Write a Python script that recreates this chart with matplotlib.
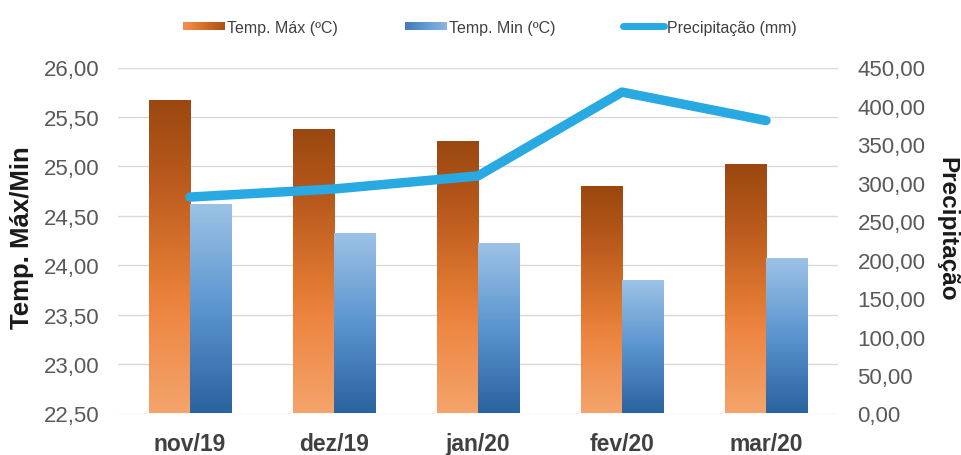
import numpy as np
import matplotlib
matplotlib.use("Agg")
import matplotlib.pyplot as plt
from matplotlib.colors import LinearSegmentedColormap
from matplotlib.legend_handler import HandlerBase
from matplotlib.patches import Rectangle
from matplotlib.lines import Line2D

plt.rcParams['font.family'] = ['Liberation Sans', 'DejaVu Sans']

# dados mensais
meses = ["nov/19", "dez/19", "jan/20", "fev/20", "mar/20"]
temp_max = [25.66, 25.37, 25.25, 24.79, 25.01]
temp_min = [24.61, 24.32, 24.21, 23.84, 24.06]
precip = [281.5, 292.0, 309.0, 418.0, 381.0]

ymin, ymax = 22.5, 26.0
pmin, pmax = 0.0, 450.0

# degradês das barras (de baixo para cima)
cmap_max = LinearSegmentedColormap.from_list(
    "tmax", [(0.0, "#F4A46C"), (0.3, "#EE8845"), (0.45, "#E07A32"),
             (0.75, "#B9591D"), (1.0, "#9A4810")])
cmap_min = LinearSegmentedColormap.from_list(
    "tmin", [(0.0, "#2B62A0"), (0.5, "#5A95CF"), (1.0, "#9DC2E6")])
cor_precip = "#29A9E1"


class GradHandler(HandlerBase):
    def __init__(self, cmap):
        super().__init__()
        self.cmap = cmap

    def create_artists(self, legend, orig_handle, xdescent, ydescent,
                       width, height, fontsize, trans):
        n = 20
        ph = height * 0.7
        y0 = -ydescent + (height - ph) / 2
        arts = []
        for i in range(n):
            c = self.cmap(0.25 + 0.6 * i / (n - 1))
            arts.append(Rectangle((-xdescent + i * width / n, y0), width / n + 0.3, ph,
                                  facecolor=c, edgecolor="none", transform=trans))
        return arts


fig = plt.figure(figsize=(9.61, 4.56), dpi=100)
ax = fig.add_axes([118 / 961, 1 - 414.5 / 456, 720 / 961, 346 / 456])
ax2 = ax.twinx()

x = np.arange(len(meses))
w = 0.288
b1 = ax.bar(x - w / 2, np.array(temp_max) - ymin, w, bottom=ymin, color="none", zorder=2)
b2 = ax.bar(x + w / 2, np.array(temp_min) - ymin, w, bottom=ymin, color="none", zorder=2)

grad = np.linspace(0, 1, 256).reshape(-1, 1)
for bars, cm in ((b1, cmap_max), (b2, cmap_min)):
    for r in bars:
        x0, y0 = r.get_xy()
        ax.imshow(grad, extent=[x0, x0 + r.get_width(), y0, y0 + r.get_height()],
                  origin="lower", aspect="auto", cmap=cm, zorder=2)

ax.set_xlim(-0.5, len(meses) - 0.5)
ax.set_ylim(ymin, ymax)
ax.set_yticks(np.arange(ymin, ymax + 0.01, 0.5))
ax.set_yticklabels([f"{v:.2f}".replace(".", ",") for v in np.arange(ymin, ymax + 0.01, 0.5)])
ax.grid(axis="y", color="#D9D9D9", linewidth=1.0)
ax.set_axisbelow(True)
ax.set_xticks(x)
ax.set_xticklabels(meses, fontweight="bold", color="#404040", fontsize=16.5)
ax.tick_params(axis="x", length=0, pad=13)
ax.tick_params(axis="y", length=0, pad=13, labelsize=16, labelcolor="#595959")

ax2.plot(x, precip, color=cor_precip, linewidth=6.8,
         solid_capstyle="round", solid_joinstyle="round", zorder=3)
ax2.set_ylim(pmin, pmax)
ax2.set_yticks(np.arange(pmin, pmax + 1, 50))
ax2.set_yticklabels([f"{v:.2f}".replace(".", ",") for v in np.arange(pmin, pmax + 1, 50)])
ax2.tick_params(axis="y", length=0, pad=14, labelsize=16, labelcolor="#595959")

for a in (ax, ax2):
    for s in a.spines.values():
        s.set_visible(False)

fig.text(22 / 961, 1 - 238 / 456, "Temp. Máx/Min", rotation=90, fontsize=18.5,
         fontweight="bold", color="#1A1A1A", ha="center", va="center")
fig.text(947 / 961, 1 - 229 / 456, "Precipitação", rotation=-90, fontsize=17.5,
         fontweight="bold", color="#1A1A1A", ha="center", va="center")

h1 = Rectangle((0, 0), 1, 1)
h2 = Rectangle((0, 0), 1, 1)
h3 = Line2D([], [], color=cor_precip, linewidth=5, solid_capstyle="round")
fig.legend([h1, h2, h3], ["Temp. Máx (ºC)", "Temp. Min (ºC)", "Precipitação (mm)"],
           handler_map={h1: GradHandler(cmap_max), h2: GradHandler(cmap_min)},
           loc="center", bbox_to_anchor=(490 / 961, 1 - 28 / 456), ncol=3,
           frameon=False, fontsize=11.5, handlelength=2.6, handletextpad=0.15,
           columnspacing=4.2, labelcolor="#404040")

fig.savefig("out.png", dpi=100)
